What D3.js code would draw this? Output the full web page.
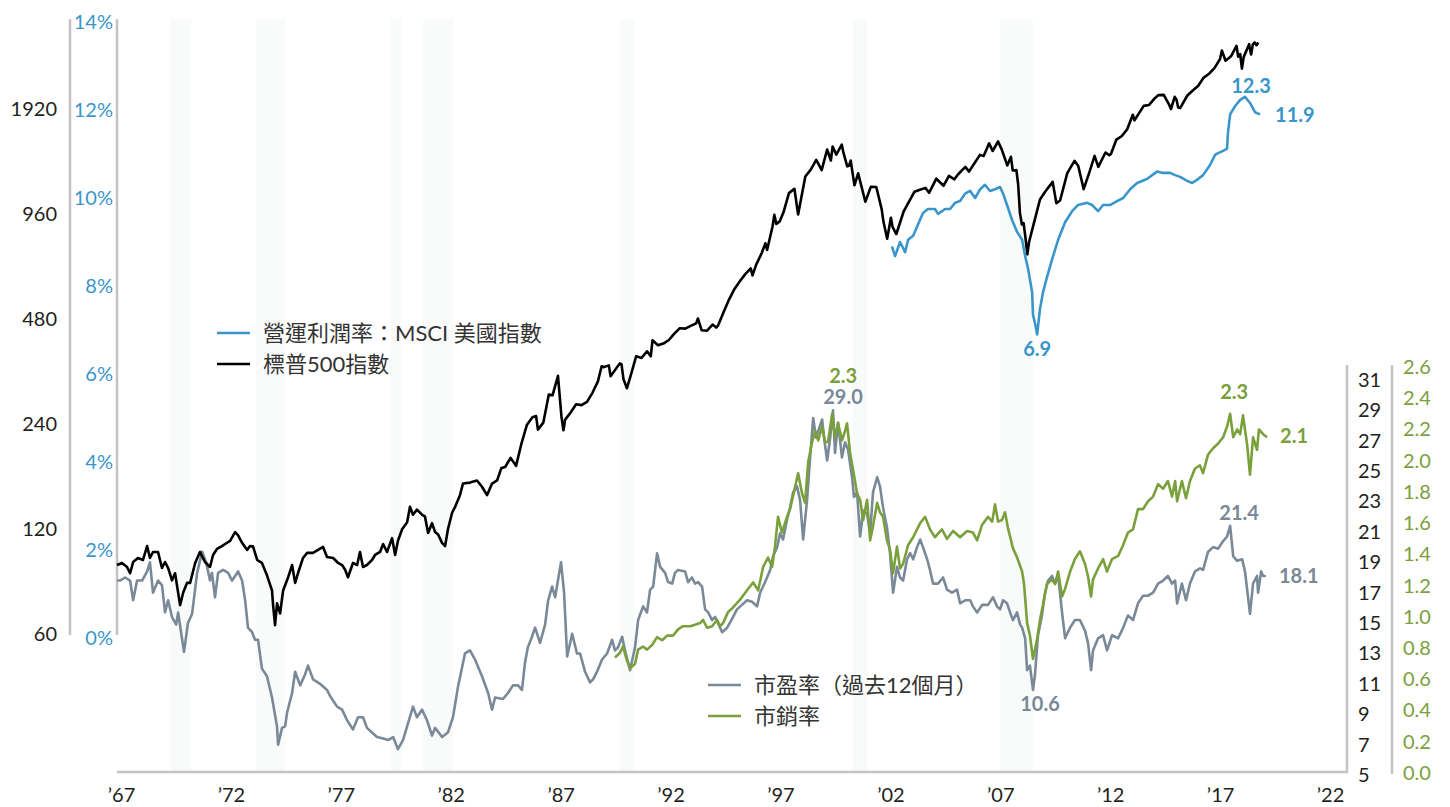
<!DOCTYPE html>
<html>
<head>
<meta charset="utf-8">
<script src="https://cdn.jsdelivr.net/npm/d3@7"></script>
<style>
body { margin: 0; background: #fff; }
svg text { font-family: Lato, "Noto Sans CJK TC", sans-serif; }
</style>
</head>
<body>
<svg id="chart" width="1450" height="807"></svg>
<script>
// [year, value] pairs
var spx = [[1967.47,94.6],[1967.70,95.9],[1967.93,93.4],[1968.07,89.6],[1968.21,96.5],[1968.43,99.1],[1968.66,97.8],[1968.85,107.2],[1968.98,99.1],[1969.12,103.1],[1969.35,103.1],[1969.53,92.8],[1969.67,96.5],[1969.81,92.8],[1969.99,85.5],[1970.13,89.6],[1970.36,72.6],[1970.50,78.8],[1970.68,84.1],[1970.82,84.1],[1971.05,95.9],[1971.27,103.1],[1971.50,96.5],[1971.73,93.4],[1971.87,101.1],[1972.05,105.2],[1972.28,107.2],[1972.42,108.7],[1972.65,111.0],[1972.88,117.6],[1973.02,115],[1973.20,109.5],[1973.43,104.5],[1973.56,107.2],[1973.70,107],[1973.89,97.8],[1974.11,95.9],[1974.34,88.4],[1974.57,80.0],[1974.62,72.6],[1974.71,63.6],[1974.80,73.5],[1974.94,68.7],[1975.08,80.0],[1975.31,87.3],[1975.49,94.6],[1975.63,84.1],[1975.76,89.6],[1975.99,99.1],[1976.18,102.5],[1976.45,102.5],[1976.68,104.5],[1976.91,106.6],[1977.09,99.7],[1977.37,99.1],[1977.60,95.9],[1977.78,94.6],[1977.92,91.7],[1978.05,87.3],[1978.28,95.9],[1978.47,94.6],[1978.60,103.1],[1978.74,93.4],[1978.92,94.6],[1979.15,97.8],[1979.29,101.1],[1979.52,103.1],[1979.66,108.7],[1979.84,103.1],[1980.07,113.0],[1980.21,101.1],[1980.34,111.0],[1980.53,119.8],[1980.76,125.5],[1980.89,138.9],[1981.03,131.9],[1981.21,136.4],[1981.44,131.9],[1981.58,130.2],[1981.72,116.9],[1981.90,124.7],[1982.04,117.6],[1982.18,115.7],[1982.36,109.5],[1982.50,107.2],[1982.63,119.8],[1982.82,133.6],[1982.96,138.9],[1983.18,150.0],[1983.32,162.0],[1983.64,163.0],[1983.96,165.3],[1984.19,158.6],[1984.42,150.0],[1984.65,162.0],[1984.88,165.3],[1985.08,179.6],[1985.25,180.7],[1985.5,191.9],[1985.75,182.1],[1986.0,211.3],[1986.25,238.9],[1986.5,250.8],[1986.67,252.9],[1986.75,231.3],[1987.0,242.2],[1987.25,291.7],[1987.42,290.1],[1987.67,329.8],[1987.83,251.8],[1987.92,230.3],[1988.0,247.1],[1988.25,258.9],[1988.5,273.5],[1988.75,271.9],[1989.0,277.7],[1989.25,294.9],[1989.5,317.9],[1989.67,351.5],[1989.75,349.2],[1990.0,353.4],[1990.08,329.1],[1990.5,358.0],[1990.58,356.2],[1990.67,322.6],[1990.83,304.0],[1991.0,330.2],[1991.25,375.2],[1991.5,371.2],[1991.75,387.9],[1991.92,375.2],[1992.0,417.1],[1992.25,403.7],[1992.5,408.1],[1992.75,417.8],[1993.0,435.7],[1993.25,451.7],[1993.5,450.5],[1993.75,458.9],[1994.0,466.5],[1994.08,481.6],[1994.25,445.8],[1994.5,444.3],[1994.75,462.7],[1994.92,453.7],[1995.0,459.3],[1995.25,500.7],[1995.5,544.8],[1995.75,584.4],[1996.0,615.9],[1996.25,645.5],[1996.5,670.6],[1996.58,639.9],[1996.75,687.3],[1997.0,740.7],[1997.17,791],[1997.25,757.1],[1997.5,885.1],[1997.58,954.3],[1997.67,899.5],[1997.83,914.6],[1998.0,970.4],[1998.25,1101.8],[1998.5,1133.8],[1998.67,957.3],[1998.75,1017],[1999.0,1229.2],[1999.25,1286.4],[1999.5,1372.7],[1999.75,1282.7],[2000.0,1469.3],[2000.17,1366.4],[2000.25,1498.6],[2000.42,1420.6],[2000.67,1517.7],[2000.75,1436.5],[2000.92,1315.2],[2001.0,1320.3],[2001.08,1366],[2001.25,1160.3],[2001.42,1255.8],[2001.75,1040.9],[2002.0,1148.1],[2002.25,1147.4],[2002.5,989.8],[2002.58,911.6],[2002.75,815.3],[2002.92,936.3],[2003.0,879.8],[2003.17,841.2],[2003.5,974.5],[2004.0,1111.9],[2004.25,1126.2],[2004.5,1140.8],[2004.67,1104.2],[2005.0,1211.9],[2005.33,1156.8],[2005.58,1234.2],[2005.83,1207],[2006.0,1248.3],[2006.33,1310.6],[2006.5,1270.2],[2007.0,1418.3],[2007.17,1406.8],[2007.42,1530.6],[2007.58,1455.3],[2007.83,1549.4],[2008.0,1468.4],[2008.25,1322.7],[2008.42,1400.4],[2008.5,1280],[2008.67,1282.8],[2008.75,1166.4],[2008.83,968.8],[2008.92,896.2],[2009.0,903.3],[2009.08,825.9],[2009.17,735.1],[2009.25,797.9],[2009.5,919.3],[2009.75,1057.1],[2010.0,1115.1],[2010.33,1186.7],[2010.5,1030.7],[2010.67,1049.3],[2011.0,1257.6],[2011.33,1363.6],[2011.5,1320.6],[2011.75,1131.4],[2012.0,1257.6],[2012.25,1408.5],[2012.42,1310.3],[2012.75,1440.7],[2012.92,1416.2],[2013.0,1426.2],[2013.25,1569.2],[2013.5,1606.3],[2013.75,1681.6],[2014.0,1848.4],[2014.08,1782.6],[2014.5,1960.2],[2014.75,1972.3],[2015.0,2058.9],[2015.17,2104.5],[2015.42,2107.4],[2015.67,1972.2],[2015.75,1920],[2015.92,2080.4],[2016.0,2043.9],[2016.08,1940.2],[2016.17,1932.2],[2016.5,2098.9],[2016.75,2168.3],[2017.0,2238.8],[2017.25,2362.7],[2017.5,2423.4],[2017.75,2519.4],[2018.0,2673.6],[2018.08,2823.8],[2018.25,2640.9],[2018.5,2718.4],[2018.75,2914],[2018.83,2711.7],[2018.92,2760.2],[2019.0,2506.9],[2019.08,2704.1],[2019.33,2945.8],[2019.42,2752.1],[2019.5,2941.8],[2019.58,2980.4],[2019.67,2926.5],[2019.75,2976.7]];

var margin = [[2002.97,8.9],[2003.11,8.68],[2003.34,9.0],[2003.57,8.77],[2003.71,9.05],[2003.94,9.14],[2004.17,9.41],[2004.39,9.66],[2004.62,9.75],[2004.94,9.75],[2005.08,9.64],[2005.26,9.7],[2005.4,9.75],[2005.63,9.75],[2005.86,9.89],[2006.09,9.93],[2006.32,10.1],[2006.55,10.16],[2006.78,10.0],[2007.01,10.2],[2007.23,10.3],[2007.46,10.16],[2007.69,10.2],[2007.92,10.25],[2008.06,10.1],[2008.24,9.84],[2008.47,9.5],[2008.7,9.23],[2008.93,9.05],[2009.07,8.68],[2009.2,8.4],[2009.39,7.86],[2009.43,7.34],[2009.52,7.16],[2009.62,6.9],[2009.75,7.48],[2009.89,7.86],[2010.07,8.2],[2010.3,8.6],[2010.58,9.05],[2010.9,9.45],[2011.22,9.7],[2011.49,9.84],[2011.91,9.89],[2012.14,9.84],[2012.41,9.7],[2012.64,9.84],[2012.96,9.84],[2013.28,9.93],[2013.56,10.0],[2013.88,10.2],[2014.2,10.34],[2014.65,10.43],[2015.11,10.6],[2015.39,10.57],[2015.71,10.57],[2015.94,10.52],[2016.17,10.48],[2016.49,10.39],[2016.72,10.34],[2016.99,10.43],[2017.22,10.52],[2017.54,10.75],[2017.77,10.98],[2017.91,11.02],[2018.14,11.07],[2018.32,11.12],[2018.36,11.48],[2018.46,11.9],[2018.69,12.09],[2018.92,12.23],[2019.14,12.3],[2019.37,12.16],[2019.6,11.95],[2019.83,11.9]];

var pe = [[1967.47,17.8],[1967.61,17.8],[1967.84,18.0],[1968.07,17.8],[1968.21,16.5],[1968.39,17.8],[1968.62,17.8],[1968.85,18.4],[1968.98,19.0],[1969.12,17.0],[1969.35,17.8],[1969.53,17.5],[1969.67,15.7],[1969.81,16.5],[1969.99,15.4],[1970.18,14.9],[1970.27,15.7],[1970.54,13.1],[1970.72,15.0],[1970.91,15.6],[1971.14,18.3],[1971.37,19.7],[1971.55,19.0],[1971.73,17.8],[1971.82,18.3],[1971.96,16.7],[1972.10,18.3],[1972.33,18.5],[1972.56,18.3],[1972.74,17.8],[1972.88,18.1],[1973.02,18.4],[1973.20,17.8],[1973.34,16.5],[1973.47,14.7],[1973.66,14.4],[1973.79,13.9],[1973.93,13.9],[1974.11,12.0],[1974.34,11.5],[1974.57,10.1],[1974.80,8.2],[1974.85,7.0],[1975.03,8.1],[1975.17,8.2],[1975.26,9.1],[1975.49,10.4],[1975.63,11.8],[1975.86,10.9],[1976.08,11.6],[1976.22,12.2],[1976.45,11.3],[1976.77,11.0],[1977.09,10.6],[1977.23,10.2],[1977.55,9.5],[1977.78,9.3],[1978.01,8.6],[1978.28,8.0],[1978.51,8.8],[1978.74,8.8],[1978.92,8.1],[1979.15,7.8],[1979.38,7.5],[1979.66,7.4],[1979.89,7.3],[1980.12,7.5],[1980.34,6.7],[1980.57,7.3],[1980.80,8.4],[1981.03,9.5],[1981.21,8.8],[1981.44,9.3],[1981.67,8.6],[1981.90,7.6],[1982.04,8.1],[1982.36,7.5],[1982.63,7.8],[1982.86,8.8],[1983.09,10.8],[1983.41,13.0],[1983.64,13.2],[1983.87,12.6],[1984.19,11.5],[1984.47,10.4],[1984.65,9.3],[1984.79,10.1],[1985.15,10.0],[1985.38,10.4],[1985.61,10.9],[1985.84,10.9],[1986.02,10.6],[1986.16,12.4],[1986.29,13.4],[1986.48,14.1],[1986.62,14.7],[1986.85,13.7],[1987.08,14.9],[1987.22,16.5],[1987.40,17.4],[1987.54,16.7],[1987.81,19.0],[1987.95,17.0],[1988.09,12.8],[1988.32,14.3],[1988.54,13.0],[1988.68,13.0],[1988.91,11.8],[1989.14,11.1],[1989.28,11.3],[1989.46,11.8],[1989.69,12.6],[1989.92,13.0],[1990.15,13.9],[1990.28,13.2],[1990.42,13.4],[1990.61,14.1],[1990.74,13.2],[1990.97,11.9],[1991.20,13.4],[1991.34,15.2],[1991.57,16.1],[1991.75,15.7],[1991.89,17.2],[1992.03,17.4],[1992.21,19.6],[1992.35,18.7],[1992.58,18.3],[1992.71,17.7],[1992.90,17.6],[1993.03,18.3],[1993.17,18.5],[1993.49,18.4],[1993.63,17.7],[1993.81,18.0],[1993.95,17.6],[1994.09,17.7],[1994.27,17.4],[1994.41,15.9],[1994.55,15.7],[1994.73,15.2],[1994.87,15.4],[1995.00,15.0],[1995.19,14.4],[1995.42,14.7],[1995.65,15.3],[1995.87,15.9],[1996.10,16.2],[1996.33,16.5],[1996.56,16.4],[1996.79,16.1],[1996.93,17.0],[1997.16,17.7],[1997.39,18.5],[1997.52,19.4],[1997.71,20.0],[1997.84,20.9],[1997.98,20.5],[1998.16,21.8],[1998.30,22.6],[1998.44,23.6],[1998.62,24.0],[1998.76,23.1],[1998.90,20.5],[1999.08,23.1],[1999.22,25.9],[1999.36,28.5],[1999.49,27.2],[1999.63,27.8],[1999.77,28.4],[1999.86,27.2],[2000.00,25.7],[2000.14,27.2],[2000.27,29.0],[2000.36,26.2],[2000.50,28.2],[2000.68,25.9],[2000.82,26.9],[2000.96,26.4],[2001.14,24.6],[2001.23,23.3],[2001.37,23.6],[2001.51,20.7],[2001.65,22.4],[2001.83,22.2],[2001.97,20.9],[2002.10,23.6],[2002.29,24.6],[2002.42,24.0],[2002.56,22.6],[2002.74,21.3],[2002.88,19.6],[2003.02,17.0],[2003.20,18.7],[2003.34,18.0],[2003.48,17.8],[2003.66,19.2],[2003.80,19.6],[2003.94,19.2],[2004.12,20.0],[2004.26,20.5],[2004.39,20.0],[2004.58,19.2],[2004.71,18.5],[2004.85,17.6],[2005.08,17.6],[2005.31,18.0],[2005.49,17.2],[2005.72,17.0],[2005.95,17.2],[2006.09,16.3],[2006.32,16.5],[2006.55,16.5],[2006.68,16.1],[2006.87,15.7],[2007.10,16.2],[2007.37,16.2],[2007.60,16.7],[2007.78,16.1],[2007.92,15.9],[2008.06,16.5],[2008.24,16.3],[2008.38,15.7],[2008.51,15.2],[2008.70,15.7],[2008.84,14.9],[2008.93,14.7],[2009.07,14.0],[2009.16,11.9],[2009.29,12.2],[2009.43,10.6],[2009.52,11.6],[2009.66,14.2],[2009.84,15.5],[2009.98,17.0],[2010.12,17.8],[2010.30,18.1],[2010.44,17.6],[2010.58,18.1],[2010.76,15.7],[2010.90,14.0],[2011.13,14.7],[2011.35,15.2],[2011.58,15.2],[2011.81,14.5],[2011.95,13.7],[2012.09,11.9],[2012.18,13.2],[2012.41,14.0],[2012.64,14.2],[2012.82,13.2],[2013.05,14.2],[2013.33,14.0],[2013.56,14.7],[2013.78,15.5],[2014.01,15.2],[2014.24,16.3],[2014.47,16.8],[2014.70,16.8],[2014.93,17.0],[2015.16,17.6],[2015.39,17.8],[2015.61,18.1],[2015.80,17.6],[2015.94,17.8],[2016.03,16.3],[2016.25,17.6],[2016.44,16.5],[2016.62,17.6],[2016.85,18.4],[2017.08,18.6],[2017.22,18.5],[2017.45,19.7],[2017.68,20.0],[2017.91,19.9],[2018.14,20.4],[2018.32,20.7],[2018.46,21.4],[2018.60,19.4],[2018.78,19.1],[2019.01,19.2],[2019.14,18.4],[2019.37,15.6],[2019.51,17.6],[2019.69,18.1],[2019.74,17.0],[2019.88,18.4],[2019.97,18.1],[2020.10,18.1]];

var ps = [[1990.28,0.74],[1990.51,0.77],[1990.65,0.81],[1990.83,0.72],[1990.97,0.67],[1991.20,0.70],[1991.34,0.79],[1991.57,0.81],[1991.75,0.79],[1991.98,0.82],[1992.21,0.87],[1992.44,0.85],[1992.67,0.88],[1992.94,0.88],[1993.17,0.92],[1993.40,0.94],[1993.72,0.94],[1993.95,0.95],[1994.18,0.96],[1994.32,0.98],[1994.50,0.93],[1994.73,0.94],[1994.96,0.98],[1995.10,0.94],[1995.23,0.96],[1995.46,1.03],[1995.69,1.06],[1996.01,1.11],[1996.33,1.17],[1996.61,1.22],[1996.84,1.17],[1997.07,1.32],[1997.29,1.38],[1997.48,1.32],[1997.61,1.45],[1997.75,1.64],[1997.93,1.54],[1998.16,1.64],[1998.30,1.69],[1998.53,1.83],[1998.67,1.92],[1998.85,1.79],[1998.99,1.73],[1999.13,1.99],[1999.31,2.12],[1999.45,2.19],[1999.59,2.13],[1999.77,2.22],[1999.90,2.12],[2000.04,2.12],[2000.23,2.3],[2000.36,2.15],[2000.50,2.24],[2000.68,2.13],[2000.82,2.19],[2000.91,2.24],[2001.05,2.05],[2001.19,1.94],[2001.37,1.79],[2001.51,1.75],[2001.65,1.62],[2001.83,1.75],[2001.97,1.49],[2002.10,1.58],[2002.29,1.73],[2002.42,1.67],[2002.56,1.64],[2002.74,1.49],[2002.88,1.43],[2003.02,1.28],[2003.20,1.45],[2003.34,1.31],[2003.48,1.34],[2003.71,1.46],[2003.94,1.51],[2004.26,1.60],[2004.49,1.64],[2004.71,1.56],[2004.94,1.51],[2005.26,1.56],[2005.49,1.50],[2005.77,1.55],[2006.09,1.51],[2006.41,1.55],[2006.68,1.54],[2006.87,1.49],[2007.10,1.59],[2007.37,1.64],[2007.56,1.61],[2007.69,1.72],[2007.83,1.61],[2008.01,1.62],[2008.15,1.67],[2008.28,1.57],[2008.51,1.44],[2008.70,1.38],[2008.93,1.29],[2009.02,1.21],[2009.16,0.96],[2009.29,0.88],[2009.43,0.73],[2009.62,0.86],[2009.75,0.98],[2009.89,1.08],[2010.07,1.21],[2010.30,1.24],[2010.44,1.21],[2010.58,1.29],[2010.76,1.13],[2010.90,1.18],[2011.13,1.29],[2011.35,1.37],[2011.58,1.42],[2011.81,1.34],[2011.95,1.26],[2012.09,1.13],[2012.18,1.24],[2012.41,1.31],[2012.64,1.37],[2012.82,1.29],[2013.05,1.37],[2013.33,1.39],[2013.56,1.46],[2013.78,1.54],[2014.01,1.56],[2014.24,1.69],[2014.47,1.69],[2014.70,1.74],[2014.93,1.77],[2015.16,1.85],[2015.39,1.82],[2015.61,1.87],[2015.80,1.77],[2015.94,1.87],[2016.03,1.74],[2016.25,1.87],[2016.44,1.76],[2016.62,1.87],[2016.85,1.95],[2017.08,1.97],[2017.22,1.92],[2017.45,2.04],[2017.68,2.08],[2017.91,2.11],[2018.14,2.15],[2018.32,2.22],[2018.46,2.3],[2018.60,2.15],[2018.78,2.20],[2018.92,2.17],[2019.05,2.29],[2019.24,2.10],[2019.37,1.91],[2019.51,2.15],[2019.69,2.07],[2019.78,2.20],[2019.97,2.17],[2020.15,2.15]];

// NBER recessions (start, end)
var recessions = [[1969.92,1970.87],[1973.83,1975.17],[1980.0,1980.5],[1981.5,1982.87],[1990.5,1991.17],[2001.17,2001.83],[2007.92,2009.42]];

var yearLabels = ["\u201967","\u201972","\u201977","\u201982","\u201987","\u201992","\u201997","\u201902","\u201907","\u201912","\u201917","\u201922"];
var spxTicks = [60,120,240,480,960,1920];
var marginTicks = [0,2,4,6,8,10,12,14];
var peTicks = [5,7,9,11,13,15,17,19,21,23,25,27,29,31];
var psTicks = [0,0.2,0.4,0.6,0.8,1.0,1.2,1.4,1.6,1.8,2.0,2.2,2.4,2.6];

// annotations: series, [year, value], text, dx, dy, anchor
var notes = [
  ["margin", [2019.14,12.3], "12.3", 6, -11, "middle"],
  ["margin", [2019.83,11.9], "11.9", 15, 1, "start"],
  ["margin", [2009.62,6.9], "6.9", 0, 15, "middle"],
  ["ps", [2000.23,2.3], "2.3", 11, -38, "middle"],
  ["pe", [2000.27,29.0], "29.0", 10, -13, "middle"],
  ["ps", [2018.46,2.3], "2.3", 4, -22, "middle"],
  ["pe", [2018.46,21.4], "21.4", 9, -13, "middle"],
  ["ps", [2020.15,2.15], "2.1", 13, -1, "start"],
  ["pe", [2020.10,18.1], "18.1", 13, 0, "start"],
  ["pe", [2009.43,10.6], "10.6", 7, 14, "middle"]
];

var colors = { spx: "#000000", margin: "#3a96ca", pe: "#7a8998", ps: "#7aa03c" };

var svg = d3.select("#chart");

var x = d3.scaleLinear().domain([1967.47, 2019.75]).range([117, 1258.3]);
var xLab = d3.scalePoint().domain(yearLabels).range([121, 1330]);
var yS = d3.scaleLog().domain([60, 1920]).range([634, 109]);
var yM = d3.scaleLinear().domain([0, 14]).range([638, 22]);
var yPE = d3.scaleLinear().domain([5, 31]).range([775, 380]);
var yPS = d3.scaleLinear().domain([0, 2.6]).range([773, 367]);
var yOf = { spx: yS, margin: yM, pe: yPE, ps: yPS };

// recession shading, barely visible in the original
svg.append("g").selectAll("rect").data(recessions).enter().append("rect")
  .attr("x", function(d){ return x(d[0]); })
  .attr("width", function(d){ return x(d[1]) - x(d[0]); })
  .attr("y", 19).attr("height", 752)
  .style("fill", "#f9fbfa");

// axis lines
var axisColor = "#c3c3c3";
function vline(xx, y1, y2) {
  svg.append("line").attr("x1", xx).attr("x2", xx).attr("y1", y1).attr("y2", y2)
    .style("stroke", axisColor).style("stroke-width", 2.5);
}
vline(70, 19, 635);
vline(117, 19, 635);
vline(1347, 365, 773);
vline(1392, 365, 774);
svg.append("line").attr("x1", 117).attr("x2", 1348).attr("y1", 772).attr("y2", 772)
  .style("stroke", axisColor).style("stroke-width", 2.5);

// tick labels
function styleAxis(g, color) {
  g.select(".domain").remove();
  g.selectAll("text").style("font-size", "20px").style("fill", color)
    .style("font-family", "Lato, sans-serif");
}
svg.append("g").attr("transform", "translate(60,0)")
  .call(d3.axisLeft(yS).tickValues(spxTicks).tickSize(0).tickPadding(3).tickFormat(d3.format("d")))
  .call(styleAxis, "#231f20");
svg.append("g").attr("transform", "translate(116,0)")
  .call(d3.axisLeft(yM).tickValues(marginTicks).tickSize(0).tickPadding(3).tickFormat(function(d){ return d + "%"; }))
  .call(styleAxis, colors.margin);
svg.append("g").attr("transform", "translate(1352,0)")
  .call(d3.axisRight(yPE).tickValues(peTicks).tickSize(0).tickPadding(6))
  .call(styleAxis, "#231f20");
svg.append("g").attr("transform", "translate(1397,0)")
  .call(d3.axisRight(yPS).tickValues(psTicks).tickSize(0).tickPadding(6).tickFormat(d3.format(".1f")))
  .call(styleAxis, colors.ps);
svg.append("g").attr("transform", "translate(0,785)")
  .call(d3.axisBottom(xLab).tickSize(0).tickPadding(3))
  .call(styleAxis, "#231f20");

// series
function drawLine(data, key) {
  var line = d3.line()
    .x(function(d){ return x(d[0]); })
    .y(function(d){ return yOf[key](d[1]); });
  svg.append("path").datum(data).attr("d", line)
    .style("fill", "none").style("stroke", colors[key])
    .style("stroke-width", 2.6).style("stroke-linejoin", "round");
}
drawLine(pe, "pe");
drawLine(ps, "ps");
drawLine(spx, "spx");
drawLine(margin, "margin");

// value labels
svg.append("g").selectAll("text").data(notes).enter().append("text")
  .attr("x", function(d){ return x(d[1][0]) + d[3]; })
  .attr("y", function(d){ return yOf[d[0]](d[1][1]) + d[4]; })
  .attr("dy", "0.35em")
  .attr("text-anchor", function(d){ return d[5]; })
  .style("font-size", "20px").style("font-weight", "700")
  .style("fill", function(d){ return colors[d[0]]; })
  .text(function(d){ return d[2]; });

// legends
function legend(items, lx, ly) {
  items.forEach(function(it, i) {
    var yy = ly + i * 31;
    svg.append("line").attr("x1", lx).attr("x2", lx + 33).attr("y1", yy).attr("y2", yy)
      .style("stroke", colors[it[0]]).style("stroke-width", 2.6);
    svg.append("text").attr("x", lx + 46).attr("y", yy).attr("dy", "0.36em")
      .style("font-size", "22px").style("fill", "#333")
      .text(it[1]);
  });
}
legend([["margin", "營運利潤率：MSCI 美國指數"], ["spx", "標普500指數"]], 217, 333);
legend([["pe", "市盈率（過去12個月）"], ["ps", "市銷率"]], 708, 685);
</script>
</body>
</html>
